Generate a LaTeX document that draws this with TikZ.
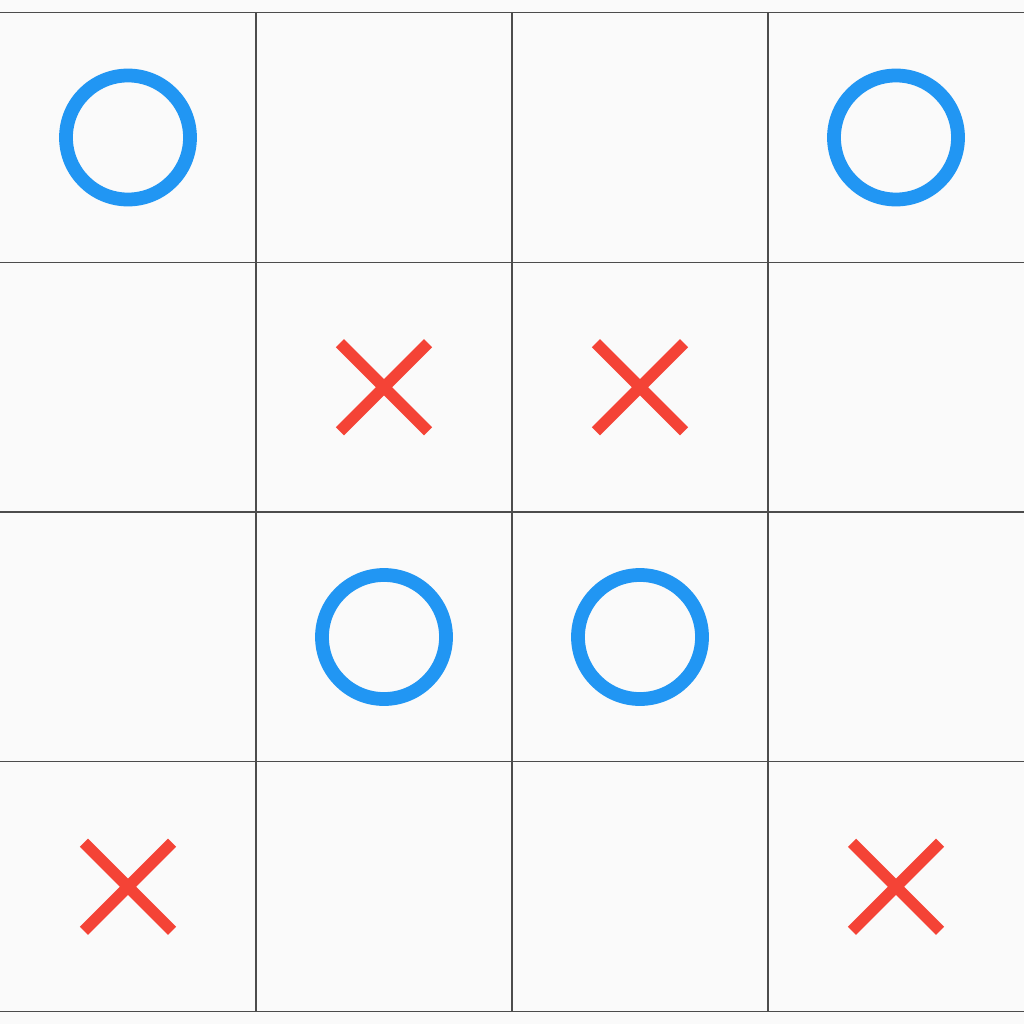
\documentclass[tikz,border=0pt]{standalone}
\usetikzlibrary{shapes.misc}

\definecolor{boardbg}{HTML}{FAFAFA}
\definecolor{oblue}{HTML}{2196F3}
\definecolor{xred}{HTML}{F44336}

\tikzset{
    board line/.style={
        draw=black!70,line width=.75pt
    },
    mark o/.style={
        circle,draw=oblue,line width=9.8pt,
        inner sep=0pt,outer sep=0pt,
        minimum size=3.1cm
    },
    mark x/.style={
        cross out,draw=xred,line width=8.2pt,
        inner sep=0pt,outer sep=0pt,
        minimum size=2.2cm
    }
}

\begin{document}
\begin{tikzpicture}[x=0.025cm,y=-0.025cm]
        \fill[boardbg] (0,0) rectangle (1024,1024);
        \useasboundingbox (0,0) rectangle (1024,1024);
        % cell centres
        \foreach \r in {0,...,3}
            \foreach \c in {0,...,3}
                \coordinate (c-\r-\c) at (128+256*\c,137.5+249.75*\r);
        % grid
        \foreach \r in {0,...,4}
            \draw[board line] (0,12.5+249.75*\r) -- (1024,12.5+249.75*\r);
        \foreach \c in {1,2,3}
            \draw[board line] (256*\c,12.5) -- (256*\c,1011.5);
        % marks
        \foreach \pos/\name in {0-0/o1,0-3/o2,2-1/o3,2-2/o4}
            \node[mark o] (\name) at (c-\pos) {};
        \foreach \pos/\name in {1-1/x1,1-2/x2,3-0/x3,3-3/x4}
            \node[mark x] (\name) at (c-\pos) {};
    \end{tikzpicture}
\end{document}
